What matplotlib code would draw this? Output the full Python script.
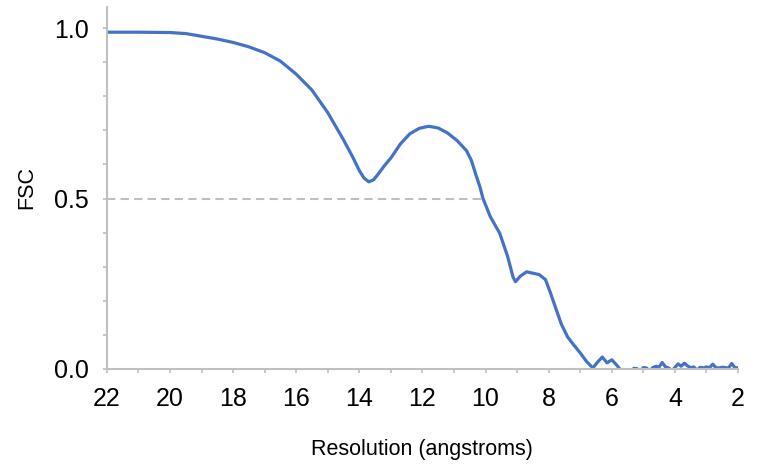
import matplotlib.pyplot as plt
from matplotlib.ticker import MultipleLocator, FormatStrFormatter

plt.rcParams['font.family'] = ['Liberation Sans', 'DejaVu Sans']

# FSC curve: resolution in angstroms, correlation value
resolution = [22.0, 21.0, 20.0, 19.5, 19.0, 18.5, 18.0, 17.5, 17.0, 16.5,
              16.0, 15.5, 15.0, 14.5, 14.2, 14.0, 13.85, 13.7, 13.55, 13.4,
              13.2, 13.0, 12.7, 12.4, 12.1, 11.8, 11.5, 11.2, 10.9, 10.6,
              10.45, 10.3, 10.18, 10.08, 9.85, 9.55, 9.3, 9.13, 9.05, 8.9,
              8.7, 8.5, 8.3, 8.1, 7.95, 7.8, 7.6, 7.4, 7.2, 7.0,
              6.8, 6.6, 6.45, 6.3, 6.15, 6.0, 5.85, 5.7, 5.55,
              5.4, 5.3, 5.2, 5.1, 5.0, 4.9, 4.8, 4.7, 4.6, 4.5,
              4.4, 4.3, 4.2, 4.1, 4.0, 3.9, 3.8, 3.7, 3.6, 3.5,
              3.4, 3.3, 3.2, 3.1, 3.0, 2.9, 2.8, 2.7, 2.6, 2.5,
              2.4, 2.3, 2.2, 2.1, 2.0]
fsc = [0.988, 0.988, 0.987, 0.984, 0.976, 0.968, 0.958, 0.945, 0.928, 0.903,
       0.865, 0.818, 0.752, 0.672, 0.620, 0.582, 0.560, 0.549, 0.555, 0.572,
       0.597, 0.619, 0.660, 0.690, 0.706, 0.712, 0.707, 0.692, 0.670, 0.640,
       0.612, 0.568, 0.535, 0.500, 0.447, 0.398, 0.330, 0.270, 0.256, 0.272,
       0.285, 0.281, 0.277, 0.262, 0.225, 0.185, 0.132, 0.094, 0.070, 0.047,
       0.022, 0.003, 0.020, 0.035, 0.018, 0.027, 0.012, -0.005, -0.020,
       -0.010, 0.002, 0.001, -0.008, 0.004, 0.003, -0.006, 0.004, 0.008, 0.006,
       0.019, 0.006, 0.003, -0.005, 0.004, 0.015, 0.008, 0.017, 0.009, 0.004,
       0.006, -0.004, 0.005, 0.003, 0.006, 0.004, 0.014, 0.004, 0.003, 0.005,
       0.004, 0.003, 0.016, 0.004, 0.003]

# 0.5 threshold crossing
threshold = 0.5
crossing = 10.08

grey = '#bfbfbf'
blue = '#4472c4'

fig = plt.figure(figsize=(7.58, 4.65), dpi=100)
ax = fig.add_axes([0.141, 0.2065, 0.8326, 0.7785])

ax.plot([22, crossing], [threshold, threshold], color=grey, lw=1.5,
        dashes=(4, 2.5), zorder=1)
ax.plot(resolution, fsc, color=blue, lw=2.3, solid_joinstyle='round',
        solid_capstyle='round', zorder=2)

ax.set_xlim(22, 2)
ax.set_ylim(0, 1.062)

ax.xaxis.set_major_locator(MultipleLocator(2))
ax.xaxis.set_minor_locator(MultipleLocator(1))
ax.yaxis.set_major_locator(MultipleLocator(0.5))
ax.yaxis.set_minor_locator(MultipleLocator(0.1))
ax.yaxis.set_major_formatter(FormatStrFormatter('%.1f'))

for side in ['top', 'right']:
    ax.spines[side].set_visible(False)
for side in ['left', 'bottom']:
    ax.spines[side].set_color(grey)
    ax.spines[side].set_linewidth(1.5)
    ax.spines[side].set_zorder(3)

ax.tick_params(which='both', color=grey, width=1.2, length=3,
               labelsize=18, labelcolor='black')
ax.tick_params(axis='x', which='major', pad=10)
ax.tick_params(axis='y', which='major', pad=10)

ax.set_xlabel('Resolution (angstroms)', fontsize=15.5, labelpad=20)
ax.set_ylabel('FSC', fontsize=15.5, labelpad=12)

fig.savefig('out.png', dpi=100)
